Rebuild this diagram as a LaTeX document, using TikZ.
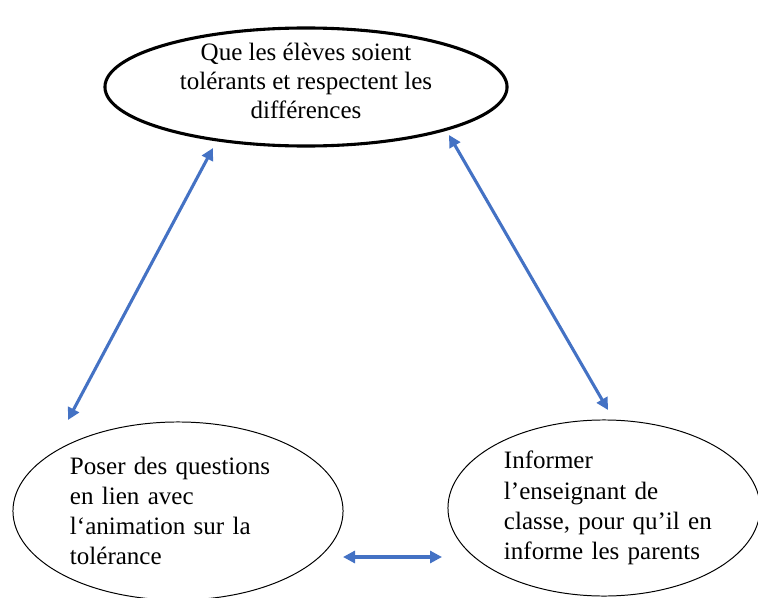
\documentclass[tikz,border=0pt]{standalone}
\usepackage{fontspec}
\setmainfont{Liberation Serif}
\usetikzlibrary{arrows.meta,shapes.geometric}
\definecolor{linkblue}{RGB}{68,114,196}

\begin{document}
\begin{tikzpicture}[
      x=0.025cm, y=-0.025cm,
      font=\fontsize{17.8}{21.5}\selectfont,
      goal/.style={ellipse, draw, line width=2.2pt, inner xsep=0pt, inner ysep=-0.1cm,
                   text depth=0.3cm, font=\fontsize{17.8}{20.6}\selectfont,
                   minimum width=10.05cm, minimum height=2.95cm, align=center},
      act/.style={ellipse, draw, line width=0.7pt, inner sep=0pt, align=left},
      link/.style={{Triangle[length=0.3cm,width=0.3cm]}-{Triangle[length=0.3cm,width=0.3cm]},
                   linkblue, line width=2.2pt},
    ]
    \useasboundingbox (0,0) rectangle (758,598);
    \node[goal] (goal) at (306,87) {Que les élèves soient\\ tolérants et respectent les\\ différences};
    \node[act, text width=5.4cm, minimum width=8.25cm, minimum height=4.45cm] (quest) at (178,511)
      {Poser des questions\\ en lien avec\\ l‘animation sur la\\ tolérance};
    \node[act, text width=5cm, minimum width=7.8cm, minimum height=4.4cm] (inform) at (604,508)
      {Informer\\ l’enseignant de\\ \mbox{classe, pour qu’il en}\\ informe les parents};
    % free arrow ends
    \coordinate (goal-sw) at (213,148);
    \coordinate (quest-n) at (68,420);
    \coordinate (goal-se) at (449,135);
    \coordinate (inform-n) at (608,410);
    \coordinate (quest-e) at (343,557);
    \coordinate (inform-w) at (442,557);
    \draw[link] (goal-sw) -- (quest-n);
    \draw[link] (goal-se) -- (inform-n);
    \draw[link] (quest-e) -- (inform-w);
  \end{tikzpicture}
\end{document}
